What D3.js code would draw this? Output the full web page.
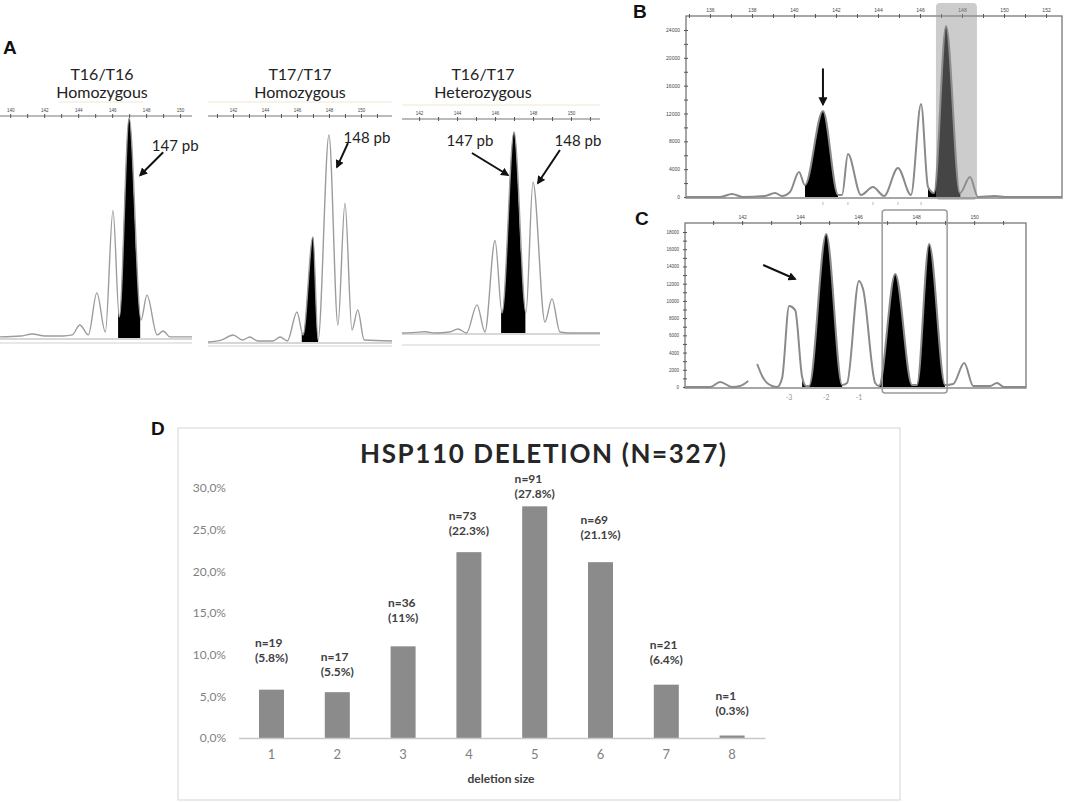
<!DOCTYPE html>
<html>
<head>
<meta charset="utf-8">
<script src="https://d3js.org/d3.v7.min.js"></script>
<style>
  body { margin: 0; background: #fff; }
  svg { font-family: Lato, "Open Sans", sans-serif; }
  .letter { font-family: "Liberation Sans", Arial, sans-serif; font-weight: bold; font-size: 19px; fill: #111; }
  .traceA { fill: none; stroke: #9c9c9c; stroke-width: 1.4; }
  .traceB { fill: none; stroke: #8a8a8a; stroke-width: 2; }
  .arrow { stroke: #111; stroke-width: 2; fill: none; }
  .gtitle { font-size: 16px; fill: #222; text-anchor: middle; }
  .pb { font-size: 15px; fill: #222; text-anchor: middle; }
</style>
</head>
<body>
<svg id="fig" width="1065" height="803"></svg>
<script>
// ---------- data: panel A (size in bp, signal in % of highest peak) ----------
var a1Trace = [[139.4,0.5],[140.6,0.9],[141.3,1.8],[142.05,0.9],[143.1,0.9],[143.65,1.4],[144.1,5.9],[144.6,1.4],
  [145.1,20.5],[145.6,2.7],[146.05,58],[146.42,9.5],[147,100],[147.7,8.2],[148.05,19.5],[148.65,1.4],
  [149,3.2],[149.4,0.5],[150.7,0.5]];
var a1Fill = [[146.35, 147.65]];

var a2Trace = [[140.44,0],[141.3,1],[142,3.4],[142.6,1],[143.05,2.4],[143.55,0.5],[144.5,0.5],[144.95,2.4],
  [145.4,0.5],[146,14.5],[146.38,3.4],[147,50.7],[147.32,1],[148,100],[148.56,8.2],[149,67],[149.44,5.8],
  [149.8,15.5],[150.2,1],[151.94,0.5]];
var a2Fill = [[146.3, 147.32]];

var a3Trace = [[141.1,0],[141.8,0.3],[142.3,0.6],[142.85,0],[143.6,0.5],[144.05,2],[144.5,0],[145.05,14],
  [145.47,0.5],[146,46],[146.37,10],[147,100],[147.63,10],[148,75],[148.63,5.5],[149,17],[149.42,0.5],
  [149.95,0],[151.53,0]];
var a3Fill = [[146.32, 147.6]];

var aTitles = [["T16/T16", "Homozygous"], ["T17/T17", "Homozygous"], ["T16/T17", "Heterozygous"]];

// ---------- data: panel B (bp, RFU) ----------
var bTrace = [[134.86,0],[136.48,0],[137.05,430],[137.57,0],[138.62,140],[139.1,575],[139.43,140],[139.81,720],
  [140.24,3600],[140.52,1700],[141.38,12360],[142.1,290],[142.29,290],[142.57,6180],[143.19,290],[143.76,1440],
  [144.29,140],[144.95,4170],[145.57,290],[146.05,13360],[146.38,1440],[146.67,575],[147.24,24570],[147.9,575],
  [148.38,2870],[148.76,0],[149.57,140],[150.05,0],[152.76,0]];
var bFill = [[140.52, 142.1], [146.38, 147.92]];
var bHighlight = [146.76, 148.71];
var bBins = [141.38, 142.57, 143.76, 144.95, 146.05];

// ---------- data: panel C (bp, RFU) ----------
var cTrace = [[140.03,0],[140.9,0],[141.24,580],[141.66,0],[141.93,116],[142.21,700],null,[142.52,2670],
  [142.69,1280],[142.86,460],[143.21,0],[143.38,1045],[143.62,9400],[143.83,8940],[144.07,1160],[144.21,116],
  [144.31,116],[144.9,17770],[145.45,230],[145.62,460],[146.03,12310],[146.17,11380],[146.59,460],[146.72,116],
  [147.28,13120],[147.86,230],[148.03,230],[148.45,16600],[149.0,230],[149.28,350],[149.66,2790],[149.97,116],
  [150.55,116],[150.79,460],[151.03,0],[151.79,0]];
var cFill = [[144.07, 145.45], [146.72, 149.0]];
var cBox = [146.83, 149.07];
var cOffsetLabels = ["-3", "-2", "-1"];
var cOffsetPos = [143.62, 144.9, 146.03];

// ---------- data: panel D ----------
var deletionSizes = ["1", "2", "3", "4", "5", "6", "7", "8"];
var deletionCounts = [19, 17, 36, 73, 91, 69, 21, 1];
var deletionPct = [5.8, 5.5, 11, 22.3, 27.8, 21.1, 6.4, 0.3];
var pctLabels = ["(5.8%)", "(5.5%)", "(11%)", "(22.3%)", "(27.8%)", "(21.1%)", "(6.4%)", "(0.3%)"];
var pctTicks = [0, 5, 10, 15, 20, 25, 30];

// data label lift above each bar top (px), as placed in the original
var labelLift = [47, 36, 44, 37, 28, 43, 40, 40];

var svg = d3.select("#fig");
var defs = svg.append("defs");

defs.append("marker").attr("id", "head").attr("viewBox", "0 0 10 10")
  .attr("refX", 8).attr("refY", 5).attr("markerWidth", 4.2).attr("markerHeight", 4.2)
  .attr("orient", "auto")
  .append("path").attr("d", "M0,0L10,5L0,10z").attr("fill", "#111");

var clipCount = 0;
function drawTrace(g, pts, x, y, fills, cls) {
  var line = d3.line().defined(d => d != null)
    .x(d => x(d[0])).y(d => y(d[1])).curve(d3.curveMonotoneX);
  var area = d3.area().defined(d => d != null)
    .x(d => x(d[0])).y0(y(0)).y1(d => y(d[1])).curve(d3.curveMonotoneX);
  fills.forEach(function(f) {
    var id = "clip" + (clipCount++);
    defs.append("clipPath").attr("id", id).append("rect")
      .attr("x", x(f[0])).attr("width", x(f[1]) - x(f[0]))
      .attr("y", 0).attr("height", 803);
    g.append("path").attr("d", area(pts)).attr("fill", "#000")
      .attr("clip-path", "url(#" + id + ")");
  });
  g.append("path").attr("class", cls).attr("d", line(pts));
}

function topAxis(g, x, y0, ticks, size) {
  var ax = d3.axisTop(x).tickValues(ticks).tickSizeOuter(0).tickSizeInner(2).tickPadding(2.5)
    .tickFormat(d => d % 2 === 0 ? d : "");
  var a = g.append("g").attr("transform", "translate(0," + y0 + ")").call(ax)
    .attr("font-size", size).attr("font-family", "Liberation Sans, Arial, sans-serif");
  a.select(".domain").remove();
  a.selectAll(".tick line").attr("y1", 2).attr("y2", -2).attr("stroke", "#555");
  a.selectAll(".tick text").attr("fill", "#444");
}

function arrow(g, x1, y1, x2, y2) {
  g.append("line").attr("class", "arrow")
    .attr("x1", x1).attr("y1", y1).attr("x2", x2).attr("y2", y2)
    .attr("marker-end", "url(#head)");
}

/* ================= Panel A ================= */
svg.append("text").attr("class", "letter").attr("x", 3).attr("y", 54).text("A");

var panelsA = [
  {trace: a1Trace, fill: a1Fill, left: 0, right: 192, base: 338, top: 118, axisY: 116, shade: 343, cx: 102,
   faint: [58, 143], notes: [{tip: [147.65, 74], dx: 23, dy: -23, text: "147 pb", lx: 35, ly: -30}]},
  {trace: a2Trace, fill: a2Fill, left: 208, right: 392, base: 342, top: 135, axisY: 116, shade: 346, cx: 300,
   faint: [208, 392], notes: [{tip: [148.5, 84.5], dx: 11, dy: -24, text: "148 pb", lx: 30, ly: -30}]},
  {trace: a3Trace, fill: a3Fill, left: 402, right: 600, base: 333, top: 132, axisY: 119, shade: 345, cx: 483,
   faint: [402, 600], notes: [{tip: [146.68, 78.6], dx: -36, dy: -22, text: "147 pb", lx: -38, ly: -35},
                              {tip: [148.26, 74.6], dx: 22, dy: -33, text: "148 pb", lx: 40, ly: -43}]}
];

panelsA.forEach(function(p) {
  var g = svg.append("g");
  var dom = [p.trace[0][0], p.trace[p.trace.length - 1][0]];
  var x = d3.scaleLinear().domain(dom).range([p.left, p.right]);
  var y = d3.scaleLinear().domain([0, 100]).range([p.base, p.top]);

  // faint line above the size axis
  g.append("line").attr("x1", p.faint[0]).attr("x2", p.faint[1])
    .attr("y1", p.axisY - 14).attr("y2", p.axisY - 14)
    .attr("stroke", "#efe8cf").attr("stroke-width", 1.2);
  g.append("line").attr("x1", p.left).attr("x2", p.right)
    .attr("y1", p.axisY).attr("y2", p.axisY).attr("stroke", "#777").attr("stroke-width", 1);
  topAxis(g, x, p.axisY, d3.range(Math.ceil(dom[0]), dom[1], 1), 4.5);

  // baseline + shaded line below
  g.append("line").attr("x1", p.left).attr("x2", p.right)
    .attr("y1", p.base + 1).attr("y2", p.base + 1).attr("stroke", "#b0b0b0").attr("stroke-width", 1.2);
  g.append("line").attr("x1", p.left).attr("x2", p.right)
    .attr("y1", p.shade).attr("y2", p.shade).attr("stroke", "#e8e8e8").attr("stroke-width", 2);

  drawTrace(g, p.trace, x, y, p.fill, "traceA");

  p.notes.forEach(function(n) {
    var tx = x(n.tip[0]), ty = y(n.tip[1]);
    arrow(g, tx + n.dx, ty + n.dy, tx, ty);
    g.append("text").attr("class", "pb").attr("x", tx + n.lx).attr("y", ty + n.ly)
      .attr("dominant-baseline", "central").text(n.text);
  });
});

aTitles.forEach(function(t, i) {
  svg.append("text").attr("class", "gtitle").attr("x", panelsA[i].cx).attr("y", 73)
    .attr("dominant-baseline", "central").text(t[0]);
  svg.append("text").attr("class", "gtitle").attr("x", panelsA[i].cx).attr("y", 91)
    .attr("dominant-baseline", "central").text(t[1]);
});

/* ================= Panel B ================= */
svg.append("text").attr("class", "letter").attr("x", 633).attr("y", 18).text("B");
(function() {
  var g = svg.append("g");
  var left = 686, right = 1062, top = 16, bottom = 198;
  var x = d3.scaleLinear().domain([bTrace[0][0], bTrace[bTrace.length - 1][0]]).range([left, right]);
  var y = d3.scaleLinear().domain([0, 24000]).range([197, 30]);

  g.append("rect").attr("x", left).attr("y", top).attr("width", right - left).attr("height", bottom - top)
    .attr("fill", "none").attr("stroke", "#777").attr("stroke-width", 1.3);
  topAxis(g, x, top, d3.range(135, 153, 1), 5);

  var ya = g.append("g").attr("transform", "translate(" + left + ",0)")
    .call(d3.axisLeft(y).tickValues(d3.range(0, 24001, 2000)).tickSizeInner(2).tickSizeOuter(0).tickPadding(4)
      .tickFormat(d => d % 4000 === 0 ? d : ""))
    .attr("font-size", 5).attr("font-family", "Liberation Sans, Arial, sans-serif");
  ya.select(".domain").remove();
  ya.selectAll(".tick line").attr("x1", 2).attr("x2", -2).attr("stroke", "#555");
  ya.selectAll(".tick text").attr("fill", "#444");

  g.selectAll(".bin").data(bBins).enter().append("line")
    .attr("x1", d => x(d)).attr("x2", d => x(d)).attr("y1", 202).attr("y2", 205)
    .attr("stroke", "#bbb").attr("stroke-width", 1);

  drawTrace(g, bTrace, x, y, bFill, "traceB");

  g.append("rect").attr("x", x(bHighlight[0])).attr("width", x(bHighlight[1]) - x(bHighlight[0]))
    .attr("y", 3).attr("height", 197).attr("rx", 4)
    .attr("fill", "rgb(146,146,146)").attr("fill-opacity", 0.47);

  var tx = x(141.38), ty = y(13300);
  defs.append("marker").attr("id", "headB").attr("viewBox", "0 0 10 10")
    .attr("refX", 8).attr("refY", 5).attr("markerWidth", 4.5).attr("markerHeight", 4.5)
    .attr("orient", "auto")
    .append("path").attr("d", "M0,0L10,5L0,10z").attr("fill", "#111");
  g.append("line").attr("class", "arrow").attr("x1", tx).attr("y1", ty - 36).attr("x2", tx).attr("y2", ty)
    .attr("marker-end", "url(#headB)");
})();

/* ================= Panel C ================= */
svg.append("text").attr("class", "letter").attr("x", 635).attr("y", 225).text("C");
(function() {
  var g = svg.append("g");
  var left = 685, right = 1026, top = 223, bottom = 388;
  var x = d3.scaleLinear().domain([cTrace[0][0], cTrace[cTrace.length - 1][0]]).range([left, right]);
  var y = d3.scaleLinear().domain([0, 18000]).range([387, 232]);

  g.append("rect").attr("x", left).attr("y", top).attr("width", right - left).attr("height", bottom - top)
    .attr("fill", "none").attr("stroke", "#777").attr("stroke-width", 1.3);
  topAxis(g, x, top, d3.range(141, 152, 1), 5);

  var ya = g.append("g").attr("transform", "translate(" + left + ",0)")
    .call(d3.axisLeft(y).tickValues(d3.range(0, 18001, 1000)).tickSizeInner(2).tickSizeOuter(0).tickPadding(4)
      .tickFormat(d => d % 2000 === 0 ? d : ""))
    .attr("font-size", 4.5).attr("font-family", "Liberation Sans, Arial, sans-serif");
  ya.select(".domain").remove();
  ya.selectAll(".tick line").attr("x1", 2).attr("x2", -2).attr("stroke", "#555");
  ya.selectAll(".tick text").attr("fill", "#444");

  drawTrace(g, cTrace, x, y, cFill, "traceB");

  g.append("rect").attr("x", x(cBox[0])).attr("width", x(cBox[1]) - x(cBox[0]))
    .attr("y", 210).attr("height", 183).attr("rx", 3)
    .attr("fill", "none").attr("stroke", "#9a9a9a").attr("stroke-width", 1.5);

  g.selectAll(".off").data(cOffsetLabels).enter().append("text")
    .attr("x", (d, i) => x(cOffsetPos[i])).attr("y", 397)
    .attr("dominant-baseline", "central").attr("text-anchor", "middle")
    .attr("font-size", 7).attr("fill", "#999").text(d => d);

  var tx = x(143.83), ty = y(12540);
  arrow(g, tx - 32, ty - 14, tx, ty);
})();

/* ================= Panel D ================= */
svg.append("text").attr("class", "letter").attr("x", 151).attr("y", 435).text("D");
(function() {
  var g = svg.append("g");
  g.append("rect").attr("x", 178).attr("y", 428).attr("width", 722).attr("height", 372)
    .attr("fill", "#fff").attr("stroke", "#dcdcdc").attr("stroke-width", 1.2);

  g.append("text").attr("x", 543).attr("y", 463).attr("text-anchor", "middle")
    .attr("font-size", 26).attr("font-weight", "bold").attr("fill", "#262626")
    .attr("textLength", 366).attr("lengthAdjust", "spacing")
    .text("HSP110 DELETION (N=327)");

  var x = d3.scaleBand().domain(deletionSizes).range([238.6, 765]).paddingInner(0.62).paddingOuter(0.31);
  var y = d3.scaleLinear().domain([0, 30]).range([738, 488]);

  var ya = g.append("g").attr("transform", "translate(238,0)")
    .call(d3.axisLeft(y).tickValues(pctTicks).tickSize(0).tickPadding(12)
      .tickFormat(d => d3.format(".1f")(d).replace(".", ",") + "%"))
    .attr("font-size", 12).attr("font-family", "Lato, sans-serif");
  ya.select(".domain").remove();
  ya.selectAll(".tick text").attr("fill", "#7f7f7f");

  g.selectAll(".bar").data(deletionPct).enter().append("rect")
    .attr("x", (d, i) => x(deletionSizes[i])).attr("width", x.bandwidth())
    .attr("y", d => y(d)).attr("height", d => y(0) - y(d))
    .attr("fill", "#8b8b8b");

  var xa = g.append("g").attr("transform", "translate(0," + y(0) + ")")
    .call(d3.axisBottom(x).tickSize(0).tickPadding(12))
    .attr("font-size", 13).attr("font-family", "Lato, sans-serif");
  xa.select(".domain").attr("stroke", "#c8c8c8").attr("stroke-width", 1.3);
  xa.selectAll(".tick text").attr("fill", "#7f7f7f");

  deletionPct.forEach(function(v, i) {
    var cx = x(deletionSizes[i]) + x.bandwidth() / 2;
    var ty = y(v) - labelLift[i];
    var lg = g.append("g").attr("font-size", 12).attr("font-weight", "bold").attr("fill", "#404040");
    var t1 = lg.append("text").attr("y", ty).attr("dominant-baseline", "central").text("n=" + deletionCounts[i]);
    var t2 = lg.append("text").attr("y", ty + 15).attr("dominant-baseline", "central").text(pctLabels[i]);
    var w = Math.max(t1.node().getComputedTextLength(), t2.node().getComputedTextLength());
    t1.attr("x", cx - w / 2);
    t2.attr("x", cx - w / 2);
  });

  g.append("text").attr("x", 501).attr("y", 778).attr("text-anchor", "middle")
    .attr("dominant-baseline", "central").attr("font-size", 12).attr("font-weight", "bold")
    .attr("fill", "#404040").text("deletion size");
})();
</script>
</body>
</html>
